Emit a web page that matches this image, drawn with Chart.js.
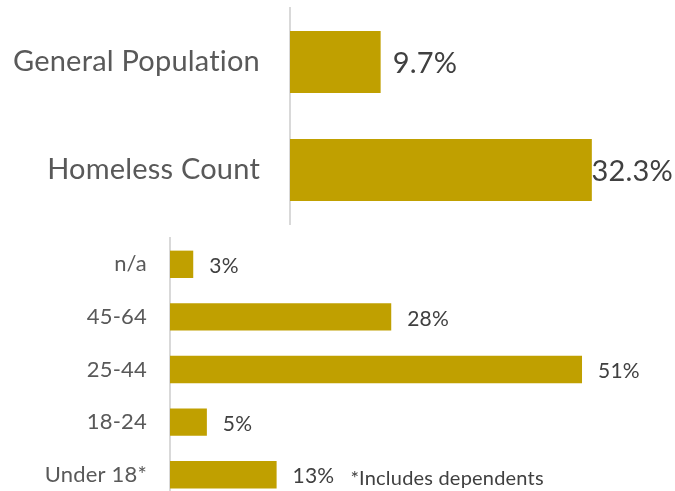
<!DOCTYPE html>
<html>
<head>
<meta charset="utf-8">
<script src="https://cdn.jsdelivr.net/npm/chart.js@4/dist/chart.umd.min.js"></script>
<style>
  html, body { margin: 0; padding: 0; background: #ffffff; overflow: hidden; width: 675px; height: 491px; }
  canvas { position: absolute; left: 0; display: block; }
  #c1 { top: 0; }
  #c2 { top: 225px; }
</style>
</head>
<body>
<canvas id="c1" width="675" height="225"></canvas>
<canvas id="c2" width="675" height="276"></canvas>
<script>
// ---- data ----
const popCategories = ['General Population', 'Homeless Count'];
const popValues = [9.7, 32.3];
const ageCategories = ['n/a', '45-64', '25-44', '18-24', 'Under 18*'];
const ageValues = [2.9, 27.6, 51.4, 4.6, 13.3];
const footnote = '*Includes dependents';

const BAR = '#C0A000';
const LABEL = '#595959';
const VALUE = '#404040';
const FONT = 'Lato, "Open Sans", sans-serif';

const noLigatures = {
  id: 'noLigatures',
  beforeDraw(chart) { chart.ctx.letterSpacing = '0.2px'; }
};

function valueLabels(opts) {
  return {
    id: 'valueLabels',
    afterDatasetsDraw(chart) {
      const ctx = chart.ctx;
      const meta = chart.getDatasetMeta(0);
      ctx.save();
      ctx.textBaseline = 'middle';
      ctx.textAlign = 'left';
      meta.data.forEach((bar, i) => {
        const v = chart.data.datasets[0].data[i];
        const txt = v.toFixed(opts.decimals) + '%';
        ctx.font = opts.size + 'px ' + FONT;
        ctx.fillStyle = VALUE;
        const w = ctx.measureText(txt).width;
        let x = bar.x + opts.offset;
        x = Math.min(x, chart.width - w - 2);
        ctx.fillText(txt, x, bar.y + 2);
        if (opts.note && opts.noteIndex === i) {
          ctx.font = opts.noteSize + 'px ' + FONT;
          ctx.fillText(opts.note, x + w + 16, bar.y + 4);
        }
      });
      ctx.restore();
    }
  };
}

function makeChart(canvas, labels, values, cfg) {
  return new Chart(canvas, {
    type: 'bar',
    data: {
      labels: labels,
      datasets: [{
        data: values,
        backgroundColor: BAR,
        borderWidth: 0,
        categoryPercentage: 1,
        barPercentage: cfg.barPct
      }]
    },
    options: {
      indexAxis: 'y',
      responsive: false,
      animation: false,
      devicePixelRatio: 1,
      layout: { padding: { top: cfg.padTop, bottom: cfg.padBottom, left: 0, right: 0 } },
      plugins: { legend: { display: false }, tooltip: { enabled: false } },
      scales: {
        x: { display: false, min: 0, max: cfg.xMax },
        y: {
          afterFit(scale) {
            scale.width = cfg.axisX;
            scale.paddingTop = 0;
            scale.paddingBottom = 0;
          },
          grid: { display: false, drawTicks: false },
          border: { display: true, color: '#D9D9D9', width: 2 },
          ticks: {
            color: LABEL,
            padding: cfg.tickPad,
            font: { family: FONT, size: cfg.labelSize }
          }
        }
      }
    },
    plugins: [noLigatures, valueLabels(cfg.values)]
  });
}

makeChart(document.getElementById('c1'), popCategories, popValues, {
  barPct: 0.574, padTop: 8, padBottom: 1, xMax: 41.2, axisX: 290, tickPad: 30, labelSize: 29,
  values: { size: 29, decimals: 1, offset: 12 }
});

makeChart(document.getElementById('c2'), ageCategories, ageValues, {
  barPct: 0.52, padTop: 13, padBottom: 0, xMax: 63, axisX: 170, tickPad: 23, labelSize: 22,
  values: { size: 21, decimals: 0, offset: 16, note: footnote, noteIndex: 4, noteSize: 20 }
});
</script>
</body>
</html>
